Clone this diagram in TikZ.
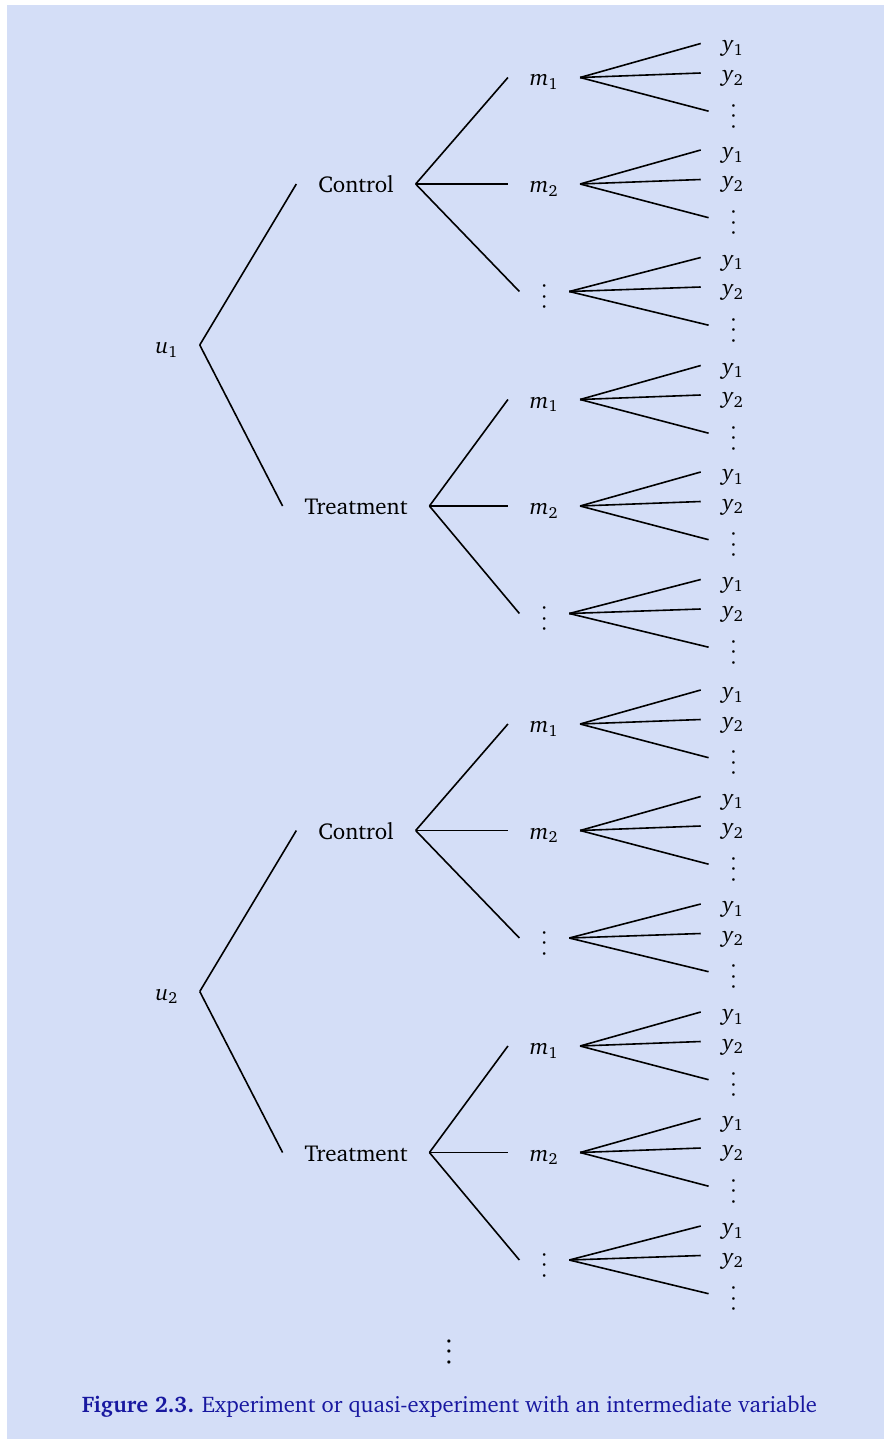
\documentclass[tikz,border=0pt]{standalone}
\usepackage[T1]{fontenc}
\usepackage{charter}
\DeclareMathSizes{23}{23}{16}{12}
\DeclareMathSizes{6}{6}{5}{5}
\DeclareMathSizes{8.5}{8.5}{6}{5}
\definecolor{bgblue}{RGB}{212,222,247}
\definecolor{capblue}{RGB}{24,24,160}
% vertical dots: #1 font size, #2 spacing, #3 lowering
\newcommand\vdd[3]{\raisebox{-#3}{\fontsize{#1}{#1}\selectfont\vbox{\baselineskip#2\lineskiplimit0pt\hbox{$\bullet$}\hbox{$\bullet$}\hbox{$\bullet$}}}}
\tikzset{
  lab/.style={inner xsep=22pt, inner ysep=0pt, outer sep=0pt, text height=17pt, text depth=0pt, font=\fontsize{23}{27}\selectfont},
  vd/.style={lab, inner xsep=23pt},
  edge/.style={line width=1.6pt}
}
\begin{document}
\begin{tikzpicture}[x=1pt,y=-1pt]
\useasboundingbox (0,0) rectangle (884,1439);
\fill[white] (0,0) rectangle (884,1439);
\fill[bgblue] (7,5) rectangle (884,1439);
\foreach \U/\uy in {1/345,2/991.5}{
  \node[lab] (u\U) at (166.7,\uy) {\textit{u}\textsubscript{\U}};
  \foreach \T/\tn/\dy in {1/Control/-161,2/Treatment/161}{
    \pgfmathsetmacro\ty{\uy+\dy}
    \node[lab] (t\U\T) at (356,\ty) {\tn};
    \draw[edge] (u\U.east) -- (t\U\T.west);
    \foreach \M/\my in {1/-106.5,2/0,3/107.5}{
      \pgfmathsetmacro\mmy{\ty+\my}
      \ifnum\M=3
        \node[vd] (m\U\T\M) at (544.3,\mmy) {\vdd{6pt}{10.4pt}{8.5pt}};
      \else
        \node[lab] (m\U\T\M) at (544,\mmy) {\textit{m}\textsubscript{\M}};
      \fi
      \draw[edge] (t\U\T.east) -- (m\U\T\M.west);
      \foreach \Y/\yy in {1/-34,2/-4.5,3/33.7}{
        \pgfmathsetmacro\yyy{\mmy+\yy}
        \ifnum\Y=3
          \node[vd] (y\U\T\M\Y) at (733.5,\yyy) {\vdd{6pt}{10.4pt}{8.5pt}};
        \else
          \node[lab] (y\U\T\M\Y) at (733,\yyy) {\textit{y}\textsubscript{\Y}};
        \fi
        \draw[edge] (m\U\T\M.east) -- (y\U\T\M\Y.west);
      }
    }
  }
}
\node[lab] (more) at (449,1347.5) {\vdd{8.5pt}{10.8pt}{8.6pt}};
\node[font=\fontsize{22.6}{26}\selectfont, text=capblue, anchor=base, inner sep=0pt] (cap) at (449.5,1412.5) {\textbf{Figure 2.3.} Experiment or quasi-experiment with an intermediate variable};
\end{tikzpicture}
\end{document}
